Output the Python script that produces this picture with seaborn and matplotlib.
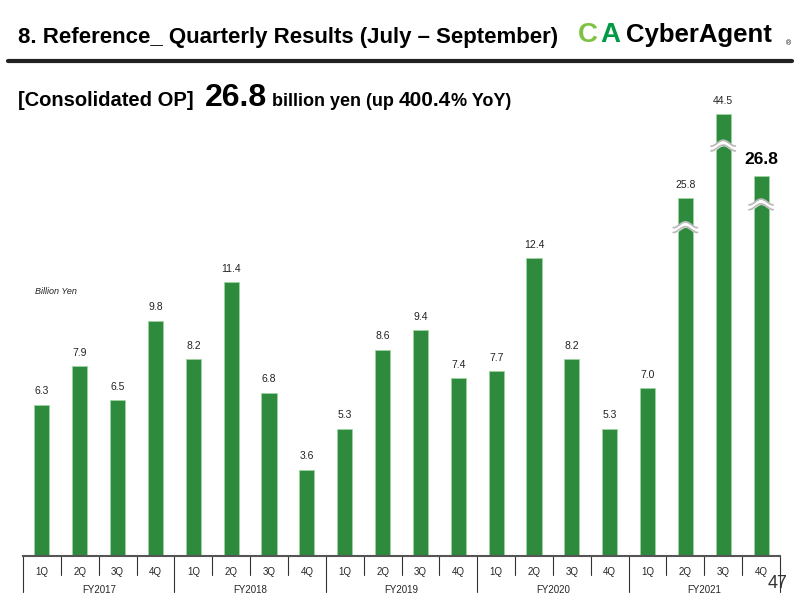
import numpy as np
import pandas as pd
import matplotlib
matplotlib.use("Agg")
import matplotlib.pyplot as plt
import seaborn as sns

# ---- data ----
fiscal_years = ["FY2017", "FY2018", "FY2019", "FY2020", "FY2021"]
quarters = ["1Q", "2Q", "3Q", "4Q"]
op_values = [6.3, 7.9, 6.5, 9.8,
             8.2, 11.4, 6.8, 3.6,
             5.3, 8.6, 9.4, 7.4,
             7.7, 12.4, 8.2, 5.3,
             7.0, 25.8, 44.5, 26.8]
# broken-axis mapping (value -> drawn height) for the tall bars
break_knots_in = [0, 13, 25.8, 26.8, 44.5]
break_knots_out = [0, 13, 14.9, 15.85, 18.4]
break_threshold = 20

sns.set_theme(style="white")
plt.rcParams['font.family'] = ['Liberation Sans', 'DejaVu Sans']

labels = [f"{fy} {q}" for fy in fiscal_years for q in quarters]
shown = np.interp(op_values, break_knots_in, break_knots_out)
df = pd.DataFrame({"label": labels, "shown": shown, "value": op_values})

fig = plt.figure(figsize=(8, 6), dpi=100)
ax = fig.add_axes([23/800, 1-556/600, (780-23)/800, 480/600])
green = "#2E8B3E"
sns.barplot(data=df, x="label", y="shown", order=labels, color=green,
            saturation=1, width=0.4, edgecolor="#9ED39F", linewidth=0.6, ax=ax)
ax.set_ylim(0, 20)
ax.set_xlim(-0.5, len(labels) - 0.5)
ax.set_xlabel(""); ax.set_ylabel("")
ax.set_xticks([]); ax.set_yticks([])
for s in ["top", "right", "left"]:
    ax.spines[s].set_visible(False)
ax.spines["bottom"].set_color("#555555")
ax.spines["bottom"].set_linewidth(1.5)

# value labels
n = len(labels)
for i, (h, v) in enumerate(zip(shown, op_values)):
    if i == n - 1:
        ax.text(i, h + 0.35, f"{v:.1f}", ha="center", va="bottom",
                fontsize=12.5, fontweight="bold", color="black")
    else:
        ax.text(i, h + 0.35, f"{v:.1f}", ha="center", va="bottom",
                fontsize=7.5, color="#222222")

# break marks
for i, (h, v) in enumerate(zip(shown, op_values)):
    if v > break_threshold:
        yb = h - (1.4 if v > 40 else 1.3)
        xs = np.linspace(i - 0.32, i + 0.32, 60)
        wave = -0.12 * np.sin((xs - (i - 0.32)) / 0.64 * 2 * np.pi + np.pi / 2)
        lower = yb + wave
        upper = yb + 0.2 + wave
        ax.fill_between(xs, lower, upper, color="white", zorder=5, clip_on=False)
        ax.plot(xs, lower, color="#BBBBBB", lw=1.3, zorder=6, clip_on=False)
        ax.plot(xs, upper, color="#BBBBBB", lw=1.3, zorder=6, clip_on=False)

# x-axis category labels and separators
tr = ax.get_xaxis_transform()
for i, lab in enumerate(labels):
    q = lab.split()[1]
    ax.text(i, -0.022, q, transform=tr, ha="center", va="top", fontsize=7)
for k in range(n + 1):
    x = k - 0.5
    long = (k % 4 == 0)
    ax.plot([x, x], [0, -0.075 if long else -0.04], transform=tr,
            color="#333333", lw=0.8, clip_on=False)
for j, fy in enumerate(fiscal_years):
    ax.text(j * 4 + 1.5, -0.06, fy, transform=tr, ha="center", va="top", fontsize=7)

# header
fig.text(18/800, 1-38/600, "8. Reference_ Quarterly Results (July \u2013 September)",
         fontsize=16, fontweight="bold", va="center", ha="left", color="black")
fig.add_artist(plt.Line2D([8/800, 792/800], [1-61/600, 1-61/600], color="#222222", lw=3))

# logo
fig.text(578/800, 1-35/600, "C", fontsize=20, fontweight="bold", color="#7DC242",
         va="center", ha="left")
fig.text(600/800, 1-35/600, "A", fontsize=20, fontweight="bold", color="#009944",
         va="center", ha="left")
fig.text(626/800, 1-35/600, "CyberAgent", fontsize=18.5, fontweight="bold", color="black",
         va="center", ha="left")
fig.text(786/800, 1-44/600, "\u00ae", fontsize=5, color="black", va="center", ha="left")

# subtitle (sequential pieces)
pieces = [("[Consolidated OP]  ", 14.5), ("26.8", 23), (" billion yen (up ", 13),
          ("400.4", 15), ("% YoY)", 13)]
fig.canvas.draw()
r = fig.canvas.get_renderer()
x = 18
for txt, fs in pieces:
    t = fig.text(x/800, 1-106/600, txt, fontsize=fs, fontweight="bold", va="baseline",
                 ha="left", color="black")
    bb = t.get_window_extent(renderer=r)
    x += bb.width

fig.text(35/800, 1-291/600, "Billion Yen", fontsize=6.5, style="italic", color="#222222",
         va="center", ha="left")
fig.text(778/800, 1-584/600, "47", fontsize=13, color="#333333", va="center", ha="center")

fig.savefig("out.png", dpi=100, facecolor="white")
